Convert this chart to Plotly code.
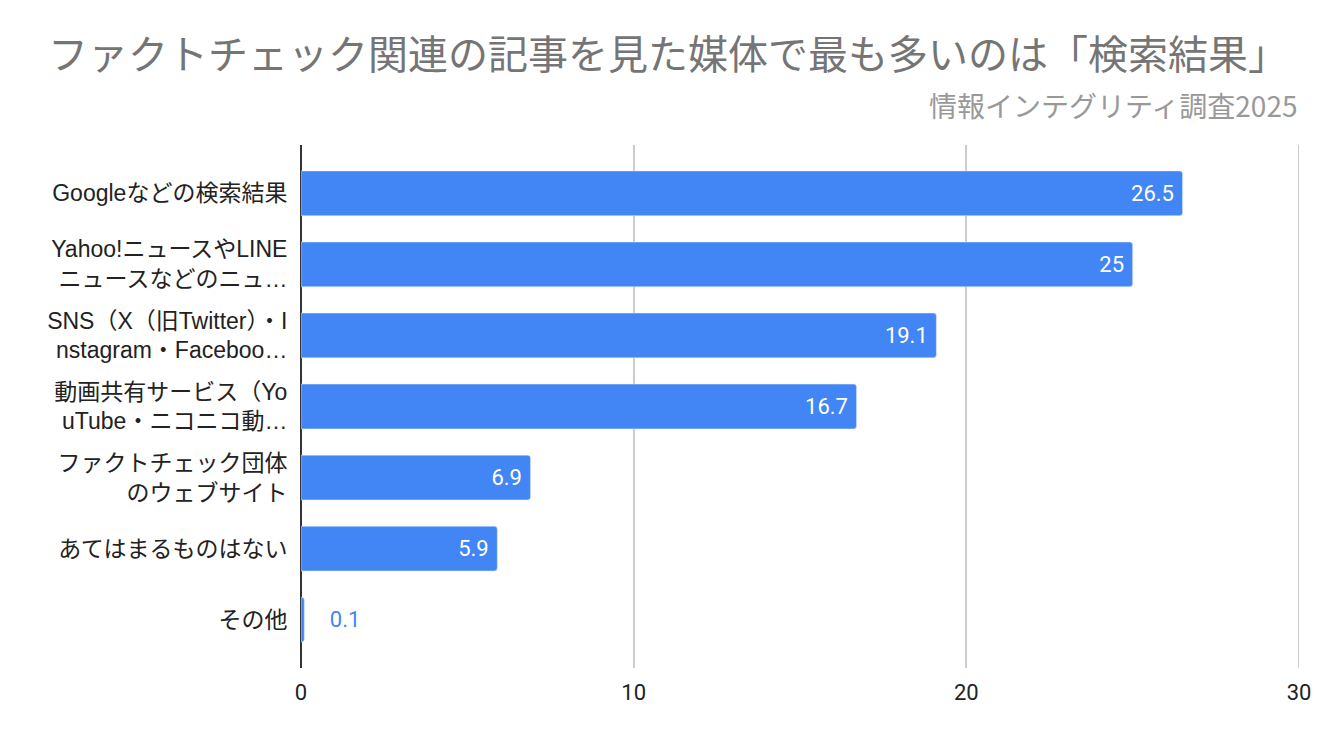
import plotly.graph_objects as go

categories = [
    "Googleなどの検索結果",
    "Yahoo!ニュースやLINE<br>ニュースなどのニュ…",
    "SNS（X（旧Twitter）・I<br>nstagram・Faceboo…",
    "動画共有サービス（Yo<br>uTube・ニコニコ動…",
    "ファクトチェック団体<br>のウェブサイト",
    "あてはまるものはない",
    "その他",
]
values = [26.5, 25, 19.1, 16.7, 6.9, 5.9, 0.1]
x_ticks = [0, 10, 20, 30]

title_text = "ファクトチェック関連の記事を見た媒体で最も多いのは「検索結果」"
subtitle_text = "情報インテグリティ調査2025"

blue = "#4285F4"

# short bars get their label outside, in blue
positions = ["inside" if v > 2 else "outside" for v in values]
labels = [f"{v:g}\u2005" if v > 2 else f"\u2003{v:g}" for v in values]

fig = go.Figure()
fig.add_trace(go.Bar(
    x=values,
    y=categories,
    orientation="h",
    marker=dict(color=blue, cornerradius=3),
    text=labels,
    textposition=positions,
    insidetextanchor="end",
    insidetextfont=dict(color="white", size=22, family="Roboto"),
    outsidetextfont=dict(color=blue, size=22, family="Roboto"),
    cliponaxis=False,
    hoverinfo="skip",
))

fig.update_layout(
    width=1338,
    height=742,
    margin=dict(l=293, r=47, t=137, b=82),
    paper_bgcolor="white",
    plot_bgcolor="white",
    bargap=0.37,
    showlegend=False,
    title=dict(
        text=title_text,
        xref="container", x=40 / 1338, xanchor="left",
        yref="container", y=1 - 47 / 742, yanchor="middle",
        font=dict(family="Noto Sans CJK JP", size=40, color="#757575"),
    ),
    font=dict(family="Liberation Sans, Noto Sans CJK JP", size=23, color="#222"),
)
fig.add_annotation(
    text=subtitle_text, xref="paper", yref="paper",
    x=1, y=1 + 40 / 523, xanchor="right", yanchor="middle",
    showarrow=False,
    font=dict(family="Noto Sans CJK JP", size=28, color="#999999"),
)
# plotly drops the gridline sitting on the right edge, so draw it
fig.add_vline(x=x_ticks[-1], line_color="#cccccc", line_width=2, layer="below")
fig.update_xaxes(
    range=[0, 30], tickvals=x_ticks, showgrid=True, gridcolor="#cccccc", gridwidth=2,
    zeroline=True, zerolinecolor="#333333", zerolinewidth=2,
    tickfont=dict(family="Roboto", size=22, color="#222"),
    ticks="outside", ticklen=5, tickcolor="white", showline=False,
)
fig.update_yaxes(
    range=[6.68, -0.68], showgrid=False, zeroline=False,
    ticks="outside", ticklen=8, tickcolor="white",
    tickfont=dict(family="Liberation Sans, Noto Sans CJK JP", size=23, color="#222"),
)

fig.write_html("out.html")
